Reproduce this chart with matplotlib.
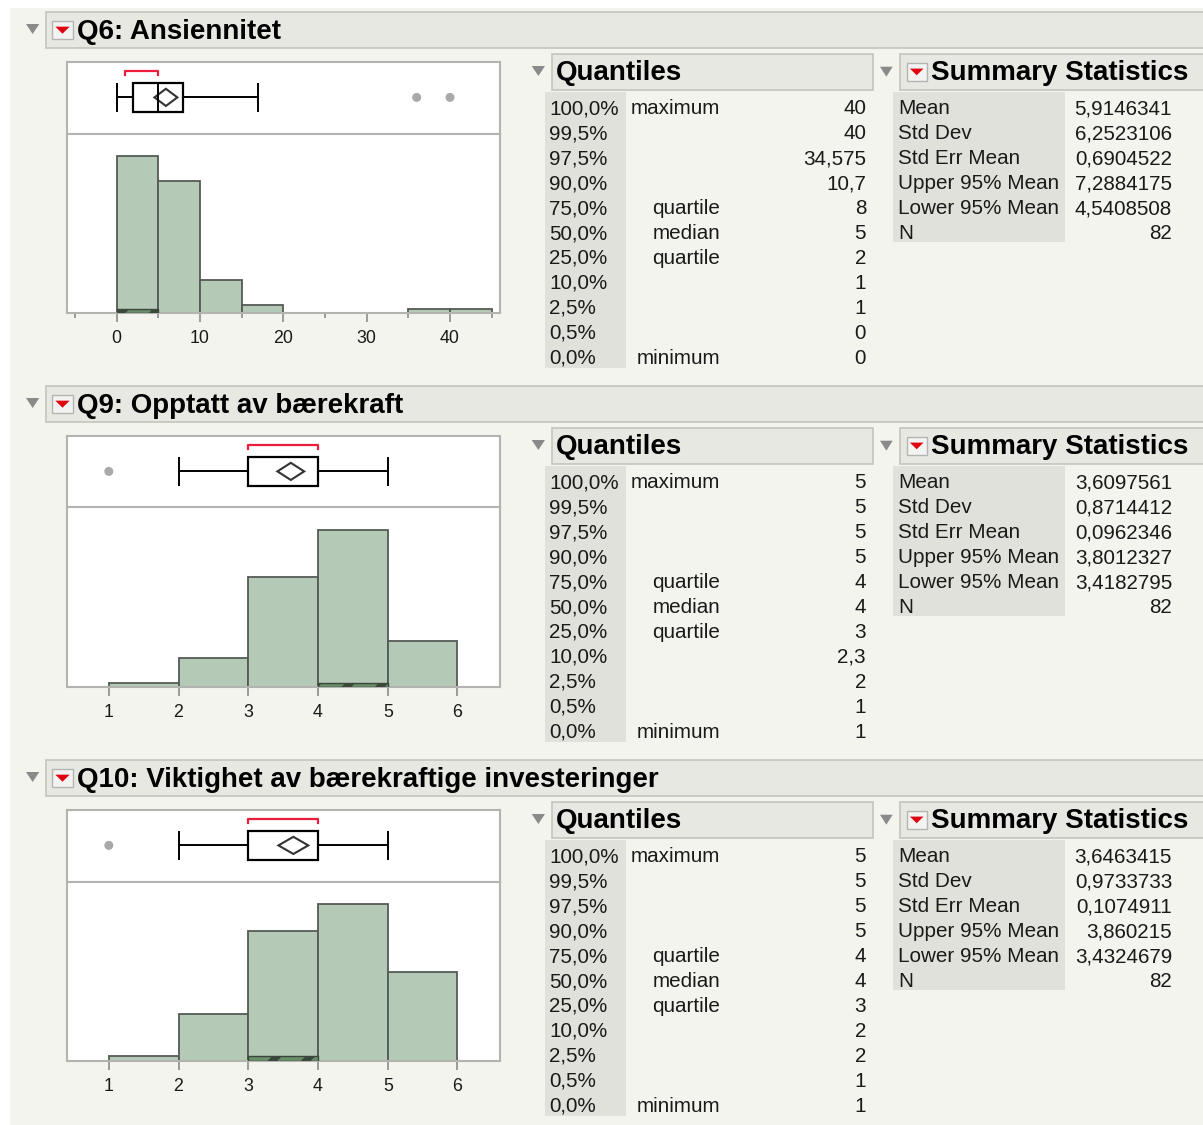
"""
JMP distribution report -- Q6, Q9, Q10
Histogram + outlier box plot, quantiles table and summary statistics.
"""

import matplotlib
matplotlib.use("Agg")
import matplotlib.pyplot as plt
from matplotlib.patches import Rectangle, Polygon

W, H = 1203, 1125
DPI = 100

plt.rcParams["font.family"] = ["Liberation Sans", "DejaVu Sans"]
plt.rcParams["hatch.linewidth"] = 5.0
plt.rcParams["hatch.color"] = "#2a372a"

# ---------------------------------------------------------------------------
# Data
# ---------------------------------------------------------------------------

titles = ["Q6: Ansiennitet", "Q9: Opptatt av bærekraft",
          "Q10: Viktighet av bærekraftige investeringer"]

# histogram bins and counts
q6_edges = [0, 5, 10, 15, 20, 25, 30, 35, 40, 45]
q6_counts = [38, 32, 8, 2, 0, 0, 0, 1, 1]
q9_edges = [1, 2, 3, 4, 5, 6]
q9_counts = [1, 7, 26, 37, 11]
q10_edges = [1, 2, 3, 4, 5, 6]
q10_counts = [1, 9, 25, 30, 17]

# selected rows shown hatched (bin index, count)
selected_bin = [0, 3, 2]
selected_count = [1, 1, 1]

# box plot: low whisker, q1, median, q3, high whisker
q6_box = [0, 2, 5, 8, 17]
q9_box = [2, 3, 4, 4, 5]
q10_box = [2, 3, 4, 4, 5]
outliers = [[36, 40], [1], [1]]
shortest_half = [[1, 5], [3, 4], [3, 4]]

# summary statistics
means = [5.9146341, 3.6097561, 3.6463415]
std_dev = [6.2523106, 0.8714412, 0.9733733]
std_err = [0.6904522, 0.0962346, 0.1074911]
upper95 = [7.2884175, 3.8012327, 3.860215]
lower95 = [4.5408508, 3.4182795, 3.4324679]
n_obs = [82, 82, 82]

quantile_levels = ["100,0%", "99,5%", "97,5%", "90,0%", "75,0%", "50,0%",
                   "25,0%", "10,0%", "2,5%", "0,5%", "0,0%"]
quantile_names = ["maximum", "", "", "", "quartile", "median", "quartile",
                  "", "", "", "minimum"]
q6_quantiles = ["40", "40", "34,575", "10,7", "8", "5", "2", "1", "1", "0", "0"]
q9_quantiles = ["5", "5", "5", "5", "4", "4", "3", "2,3", "2", "1", "1"]
q10_quantiles = ["5", "5", "5", "5", "4", "4", "3", "2", "2", "1", "1"]

summary_labels = ["Mean", "Std Dev", "Std Err Mean", "Upper 95% Mean",
                  "Lower 95% Mean", "N"]

# axis ticks / limits
q6_major = [0, 10, 20, 30, 40]
q6_minor = [-5, 5, 15, 25, 35, 45]
q9_ticks = [1, 2, 3, 4, 5, 6]
xlims = [(-5.95, 46.0), (0.4, 6.61), (0.4, 6.61)]

edges_all = [q6_edges, q9_edges, q10_edges]
counts_all = [q6_counts, q9_counts, q10_counts]
boxes_all = [q6_box, q9_box, q10_box]
quant_all = [q6_quantiles, q9_quantiles, q10_quantiles]

# ---------------------------------------------------------------------------
# Styling
# ---------------------------------------------------------------------------

BG = "#f4f4ef"
BAR_FACE = "#b5cab6"
BAR_EDGE = "#555a55"
FRAME = "#b3b3b0"
HEAD_FILL = "#e8e8e3"
HEAD_EDGE = "#c4c4bf"
COL_FILL = "#e1e1db"
TXT = "#1a1a1a"
RED = "#ee1c3c"

TITLE_FS = 20.0
TABLE_FS = 14.9
TICK_FS = 12.8
SECTION_DY = 374


def px_rect(left, top, right, bottom):
    """Pixel box (origin top-left) -> figure fraction rect."""
    return [left / W, 1 - bottom / H, (right - left) / W, (bottom - top) / H]


def fmt(v):
    s = f"{v:.7f}".rstrip("0").rstrip(".")
    return s.replace(".", ",")


fig = plt.figure(figsize=(W / DPI, H / DPI), dpi=DPI, facecolor="white")
bg = fig.add_axes([0, 0, 1, 1])
bg.set_xlim(0, W)
bg.set_ylim(H, 0)
bg.axis("off")
bg.add_patch(Rectangle((10, 8), W, H, facecolor=BG, edgecolor="none"))


def collapse_tri(x0, x1, y0, y1):
    bg.add_patch(Polygon([(x0, y0), (x1, y0), ((x0 + x1) / 2, y1)],
                         closed=True, facecolor="#8a8a8a", edgecolor="none"))


def red_button(x0, y0, w, h):
    bg.add_patch(Rectangle((x0, y0), w, h, facecolor="#f3f3f1",
                           edgecolor="#b4b4b0", linewidth=1.0))
    cx = x0 + w / 2
    bg.add_patch(Polygon([(cx - w * 0.34, y0 + h * 0.32),
                          (cx + w * 0.34, y0 + h * 0.32),
                          (cx, y0 + h * 0.70)],
                         closed=True, facecolor="#e00010", edgecolor="none"))


for k in range(3):
    dy = SECTION_DY * k

    # ---- section header
    collapse_tri(26, 39.3, 24 + dy, 34 + dy)
    bg.add_patch(Rectangle((46, 11.7 + dy), W, 36.6, facecolor=HEAD_FILL,
                           edgecolor=HEAD_EDGE, linewidth=1.2))
    red_button(52, 20.7 + dy, 21, 18.6)
    bg.text(77, 39.3 + dy, titles[k], fontsize=TITLE_FS, fontweight="bold",
            color="black", va="baseline", ha="left")

    # ---- box plot panel
    x_lo, x_hi = xlims[k]
    box_ax = fig.add_axes(px_rect(67, 62 + dy, 500, 133.5 + dy))
    box_ax.set_xlim(x_lo, x_hi)
    box_ax.set_ylim(0, 1)
    box_ax.set_facecolor("white")
    box_ax.set_xticks([])
    box_ax.set_yticks([])
    for sp in box_ax.spines.values():
        sp.set_color(FRAME)
        sp.set_linewidth(1.5)

    lo, q1, med, q3, hi = boxes_all[k]
    yc, yb, yt = 0.505, 0.30, 0.705
    box_ax.plot([lo, q1], [yc, yc], color="black", lw=1.4)
    box_ax.plot([q3, hi], [yc, yc], color="black", lw=1.4)
    box_ax.vlines([lo, hi], yb, yt, color="black", lw=1.4)
    box_ax.add_patch(Rectangle((q1, yb), q3 - q1, yt - yb, fill=False,
                               edgecolor="black", lw=1.6))
    box_ax.vlines([med], yb, yt, color="black", lw=1.4)
    box_ax.add_patch(Polygon([(lower95[k], yc), (means[k], yc + 0.12),
                              (upper95[k], yc), (means[k], yc - 0.12)],
                             closed=True, fill=False, edgecolor="#333333",
                             lw=1.5))
    a, b = shortest_half[k]
    box_ax.plot([a, a, b, b], [0.815, 0.875, 0.875, 0.815], color=RED, lw=1.6)
    box_ax.scatter(outliers[k], [yc] * len(outliers[k]), s=42,
                   color="#a9a9a9", edgecolors="none", zorder=3)

    # ---- histogram panel
    hist_ax = fig.add_axes(px_rect(67, 133.5 + dy, 500, 313.3 + dy))
    edges = edges_all[k]
    counts = counts_all[k]
    lefts = [edges[i] for i in range(len(counts)) if counts[i] > 0]
    widths = [edges[i + 1] - edges[i] for i in range(len(counts)) if counts[i] > 0]
    heights = [c for c in counts if c > 0]
    hist_ax.bar(lefts, heights, width=widths, align="edge", color=BAR_FACE,
                edgecolor=BAR_EDGE, linewidth=1.3, zorder=2)
    sb = selected_bin[k]
    hist_ax.bar([edges[sb]], [selected_count[k]], width=edges[sb + 1] - edges[sb],
                align="edge", color="#6a8d6a", edgecolor="#3a473a",
                hatch="/", linewidth=1.0, zorder=4)
    hist_ax.set_xlim(x_lo, x_hi)
    hist_ax.set_ylim(0, max(counts) * 1.146)
    hist_ax.set_facecolor("white")
    hist_ax.set_yticks([])
    if k == 0:
        hist_ax.set_xticks(q6_major)
        hist_ax.set_xticks(q6_minor, minor=True)
    else:
        hist_ax.set_xticks(q9_ticks)
    hist_ax.tick_params(axis="x", which="major", direction="out", length=6.5,
                        width=1.2, color="#8c8c8c", labelsize=TICK_FS,
                        labelcolor=TXT, pad=5.5)
    hist_ax.tick_params(axis="x", which="minor", direction="out", length=3.6,
                        width=1.2, color="#8c8c8c")
    for sp in hist_ax.spines.values():
        sp.set_color(FRAME)
        sp.set_linewidth(1.5)

    # ---- quantiles table
    collapse_tri(531.7, 545, 66 + dy, 76 + dy)
    bg.add_patch(Rectangle((551.7, 54 + dy), 321, 36, facecolor=HEAD_FILL,
                           edgecolor=HEAD_EDGE, linewidth=1.2))
    bg.text(556, 80 + dy, "Quantiles", fontsize=TITLE_FS, fontweight="bold",
            color="black", va="baseline", ha="left")
    bg.add_patch(Rectangle((545, 92.3 + dy), 81, 275.4, facecolor=COL_FILL,
                           edgecolor="none"))
    for i in range(len(quantile_levels)):
        yb_txt = 114.3 + 24.94 * i + dy
        bg.text(549, yb_txt, quantile_levels[i], fontsize=TABLE_FS, color=TXT,
                va="baseline", ha="left")
        if quantile_names[i]:
            bg.text(720, yb_txt, quantile_names[i], fontsize=TABLE_FS,
                    color=TXT, va="baseline", ha="right")
        bg.text(866, yb_txt, quant_all[k][i], fontsize=TABLE_FS, color=TXT,
                va="baseline", ha="right")

    # ---- summary statistics table
    collapse_tri(880, 892.7, 66.7 + dy, 76.7 + dy)
    bg.add_patch(Rectangle((900, 54 + dy), W, 36, facecolor=HEAD_FILL,
                           edgecolor=HEAD_EDGE, linewidth=1.2))
    red_button(906.7, 63 + dy, 20, 17.5)
    bg.text(931, 80 + dy, "Summary Statistics", fontsize=TITLE_FS,
            fontweight="bold", color="black", va="baseline", ha="left")
    bg.add_patch(Rectangle((893.3, 92.3 + dy), 171.7, 150, facecolor=COL_FILL,
                           edgecolor="none"))
    values = [fmt(means[k]), fmt(std_dev[k]), fmt(std_err[k]),
              fmt(upper95[k]), fmt(lower95[k]), str(n_obs[k])]
    for i, lab in enumerate(summary_labels):
        yb_txt = 114.3 + 24.94 * i + dy
        bg.text(898, yb_txt, lab, fontsize=TABLE_FS, color=TXT,
                va="baseline", ha="left")
        bg.text(1172, yb_txt, values[i], fontsize=TABLE_FS, color=TXT,
                va="baseline", ha="right")

fig.savefig("out.png", dpi=DPI, facecolor=fig.get_facecolor())
plt.close(fig)
